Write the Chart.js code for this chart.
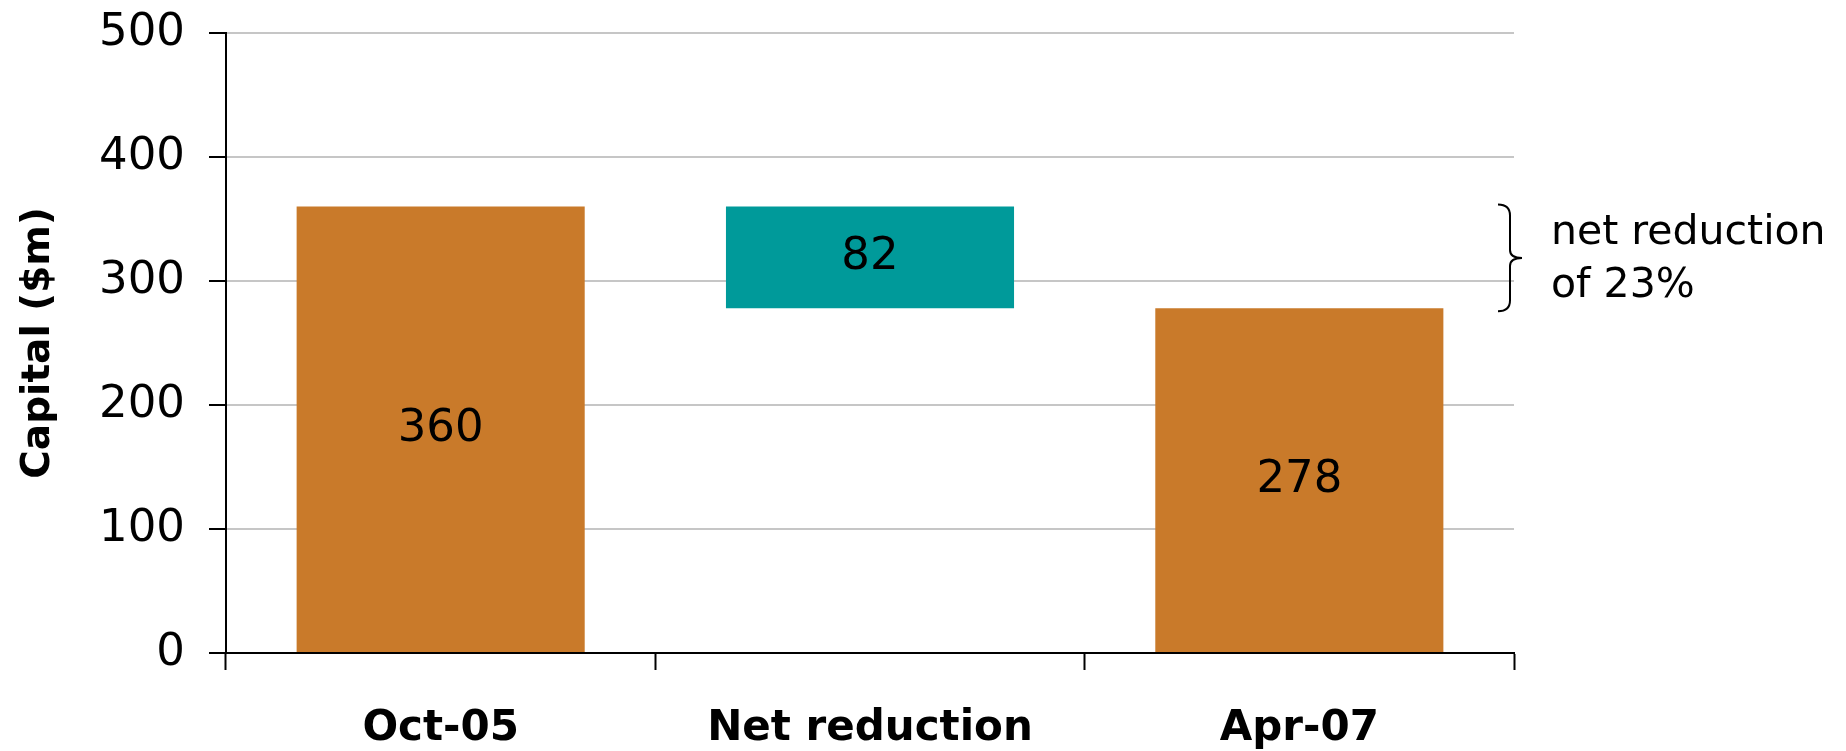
<!DOCTYPE html>
<html>
<head>
<meta charset="utf-8">
<title>Capital ($m)</title>
<script src="https://cdn.jsdelivr.net/npm/chart.js@4.4.1/dist/chart.umd.min.js"></script>
<style>
  html, body { margin: 0; padding: 0; background: #ffffff; }
  #wrap { width: 1846px; height: 751px; }
  canvas { display: block; }
</style>
</head>
<body>
<div id="wrap"><canvas id="chart" width="1846" height="751"></canvas></div>
<script>
// Waterfall: opening capital, the reduction, closing capital
const categories = ['Oct-05', 'Net reduction', 'Apr-07'];
const barBase = [0, 278, 0];
const barTop = [360, 360, 278];
const barColors = ['#C97A2A', '#009A9A', '#C97A2A'];
const yTickMin = 0;
const yTickMax = 500;
const yTickStep = 100;
const noteLines = ['net reduction', 'of 23%'];

const FONT = 'DejaVu Sans';

// Value written in the middle of each bar (height of the floating bar)
const valueLabels = {
  id: 'valueLabels',
  afterDatasetsDraw(chart) {
    const ctx = chart.ctx;
    const meta = chart.getDatasetMeta(0);
    ctx.save();
    ctx.font = `normal 45px "${FONT}"`;
    ctx.fillStyle = '#000000';
    ctx.textAlign = 'center';
    ctx.textBaseline = 'middle';
    meta.data.forEach((bar, i) => {
      const p = bar.getProps(['x', 'y', 'base'], true);
      const value = barTop[i] - barBase[i];
      ctx.fillText(String(value), p.x, (p.y + p.base) / 2);
    });
    ctx.restore();
  }
};

// Curly brace spanning the reduction, with its note to the right
const braceNote = {
  id: 'braceNote',
  afterDraw(chart) {
    const ctx = chart.ctx;
    const y = chart.scales.y;
    const right = chart.chartArea.right;
    const yTop = y.getPixelForValue(barTop[1]) - 2;
    const yBot = y.getPixelForValue(barBase[1]) + 3;
    const yMid = (yTop + yBot) / 2;
    const x0 = right - 16;
    const xs = right - 4;
    const xp = right + 8;
    const r = 11;
    ctx.save();
    ctx.strokeStyle = '#000000';
    ctx.lineWidth = 2;
    ctx.beginPath();
    ctx.moveTo(x0, yTop);
    ctx.quadraticCurveTo(xs, yTop, xs, yTop + r);
    ctx.lineTo(xs, yMid - 8);
    ctx.quadraticCurveTo(xs, yMid, xp, yMid);
    ctx.quadraticCurveTo(xs, yMid, xs, yMid + 8);
    ctx.lineTo(xs, yBot - r);
    ctx.quadraticCurveTo(xs, yBot, x0, yBot);
    ctx.stroke();

    ctx.font = `normal 41px "${FONT}"`;
    ctx.fillStyle = '#000000';
    ctx.textAlign = 'left';
    ctx.textBaseline = 'alphabetic';
    ctx.fillText(noteLines[0], right + 37, yMid - 14);
    ctx.fillText(noteLines[1], right + 37, yMid + 39);
    ctx.restore();
  }
};

new Chart(document.getElementById('chart'), {
  type: 'bar',
  data: {
    labels: categories,
    datasets: [{
      data: categories.map((c, i) => [barBase[i], barTop[i]]),
      backgroundColor: barColors,
      borderWidth: 0,
      categoryPercentage: 1,
      barPercentage: 0.671
    }]
  },
  options: {
    responsive: false,
    animation: false,
    devicePixelRatio: 1,
    layout: { padding: { top: 33, right: 332, left: 0, bottom: 0 } },
    plugins: {
      legend: { display: false },
      tooltip: { enabled: false }
    },
    scales: {
      x: {
        grid: {
          offset: true,
          drawOnChartArea: false,
          tickLength: 17,
          tickColor: '#000000',
          tickWidth: 2
        },
        border: { display: true, color: '#000000', width: 2 },
        ticks: {
          font: { family: FONT, size: 42, weight: 'bold' },
          color: '#000000',
          padding: 34,
          maxRotation: 0,
          autoSkip: false
        },
        afterFit(scale) {
          scale.height = 98;
          scale.paddingLeft = 0;
          scale.paddingRight = 0;
        }
      },
      y: {
        min: yTickMin,
        max: yTickMax,
        ticks: {
          stepSize: yTickStep,
          font: { family: FONT, size: 45, weight: 'normal' },
          color: '#000000',
          padding: 24
        },
        grid: {
          color: '#c6c6c6',
          lineWidth: 2,
          tickLength: 17,
          tickColor: '#000000',
          tickWidth: 2
        },
        border: { display: true, color: '#000000', width: 2 },
        title: {
          display: true,
          text: 'Capital ($m)',
          font: { family: FONT, size: 39, weight: 'bold' },
          color: '#000000',
          padding: { top: 15, bottom: 0 }
        },
        afterFit(scale) {
          scale.width = 226;
          scale.paddingTop = 0;
          scale.paddingBottom = 0;
        }
      }
    }
  },
  plugins: [valueLabels, braceNote]
});
</script>
</body>
</html>
